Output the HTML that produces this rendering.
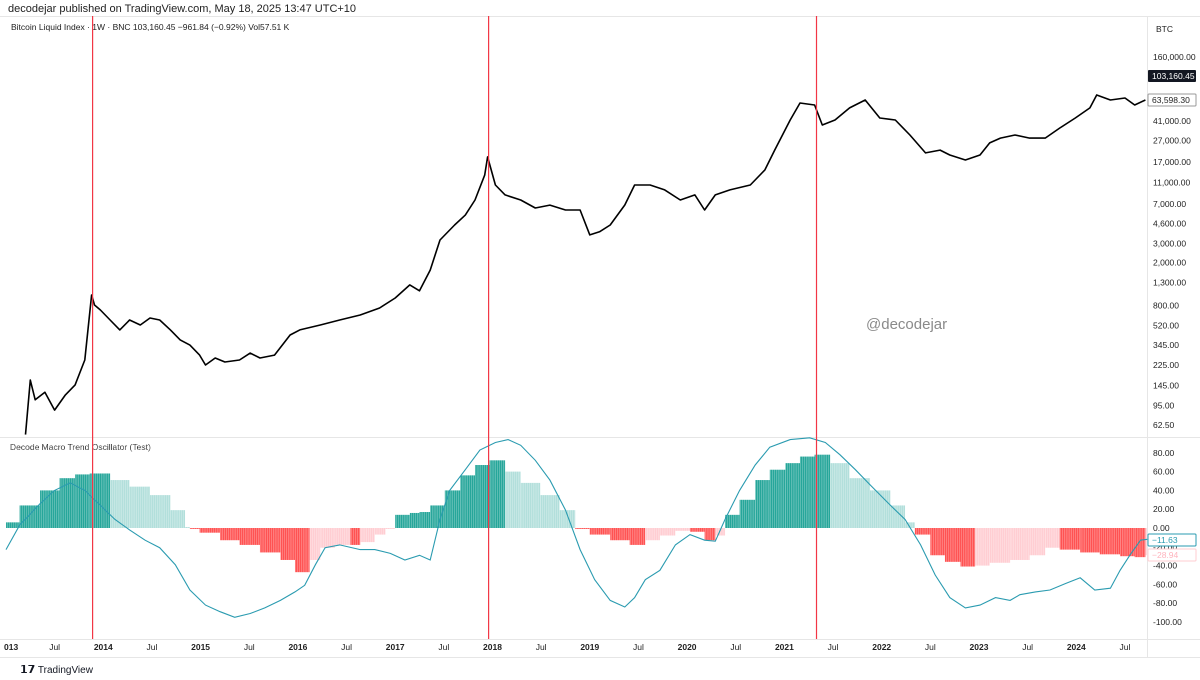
<!DOCTYPE html>
<html><head><meta charset="utf-8"><style>
html,body{margin:0;padding:0;background:#fff;width:1200px;height:680px;overflow:hidden;font-family:"Liberation Sans",sans-serif;}
svg text{font-family:"Liberation Sans",sans-serif;}
</style></head><body>
<svg id="c" width="1200" height="680" xmlns="http://www.w3.org/2000/svg">
<defs><pattern id="stripes" width="1.87" height="10" patternUnits="userSpaceOnUse"><rect x="0" y="0" width="0.35" height="10" fill="#fff" fill-opacity="0.7"/></pattern></defs>
<text x="8" y="12" font-size="11" fill="#222">decodejar published on TradingView.com, May 18, 2025 13:47 UTC+10</text>
<line x1="0" y1="16.5" x2="1200" y2="16.5" stroke="#e6e6e6"/>
<text x="11" y="30" font-size="8.5" fill="#222">Bitcoin Liquid Index · 1W · BNC  103,160.45  −961.84 (−0.92%)  Vol57.51 K</text>
<line x1="1147.5" y1="16" x2="1147.5" y2="657" stroke="#e6e6e6"/>
<line x1="0" y1="437.5" x2="1200" y2="437.5" stroke="#e6e6e6"/>
<line x1="0" y1="639.5" x2="1200" y2="639.5" stroke="#e6e6e6"/>
<line x1="0" y1="657.5" x2="1200" y2="657.5" stroke="#e6e6e6"/>
<text x="866" y="329" font-size="15" fill="#8a8a8a">@decodejar</text>
<text x="10" y="450" font-size="8.5" fill="#222">Decode Macro Trend Oscillator (Test)</text>
<g id="hist"></g>
<rect x="0" y="440" width="1147" height="150" fill="url(#stripes)"/>
<g id="osc"></g><g id="price"></g><g id="vlines"></g><g id="axes"></g>
<text x="20" y="673" font-size="10" fill="#131722"><tspan font-weight="bold" font-size="11">𝟭𝟳</tspan> TradingView</text>
</svg>
<script>
const priceYears=[2013.20,2013.25,2013.30,2013.40,2013.50,2013.61,2013.71,2013.81,2013.88,2013.91,2013.97,2014.07,2014.17,2014.27,2014.38,2014.48,2014.58,2014.69,2014.79,2014.89,2014.99,2015.05,2015.15,2015.25,2015.40,2015.51,2015.61,2015.76,2015.92,2016.02,2016.23,2016.43,2016.64,2016.84,2017.00,2017.15,2017.25,2017.36,2017.46,2017.61,2017.72,2017.82,2017.92,2017.95,2018.03,2018.13,2018.29,2018.44,2018.59,2018.75,2018.90,2019.00,2019.10,2019.21,2019.36,2019.46,2019.62,2019.77,2019.93,2020.08,2020.18,2020.29,2020.44,2020.65,2020.80,2020.90,2021.06,2021.16,2021.31,2021.39,2021.52,2021.67,2021.83,2021.98,2022.14,2022.29,2022.45,2022.60,2022.70,2022.86,2023.01,2023.11,2023.22,2023.37,2023.52,2023.68,2023.83,2023.99,2024.14,2024.21,2024.35,2024.50,2024.60,2024.71];
const priceValues=[51,163,107,126,86,119,147,250,1000,808,727,587,475,587,528,613,587,475,384,344,278,225,261,240,250,290,261,278,426,475,528,587,653,758,938,1240,1095,1700,3230,4450,5500,7580,12900,19000,10450,8450,7580,6400,6800,6130,6130,3600,3850,4450,6820,10450,10450,9400,7580,8450,6130,8450,9400,10450,14400,22000,41800,60000,57500,37500,41800,54000,64000,43600,41800,30300,20700,22000,19800,17800,19800,25600,28400,30300,28400,28400,35200,43600,54000,71200,64000,66800,57500,64000];
const histYears=[2013.00,2013.14,2013.35,2013.55,2013.71,2013.86,2014.07,2014.27,2014.48,2014.69,2014.84,2014.89,2014.99,2015.20,2015.40,2015.61,2015.82,2015.97,2016.12,2016.23,2016.38,2016.54,2016.64,2016.79,2016.90,2017.00,2017.15,2017.25,2017.36,2017.51,2017.67,2017.82,2017.97,2018.13,2018.29,2018.49,2018.69,2018.85,2019.00,2019.21,2019.41,2019.57,2019.72,2019.88,2020.03,2020.18,2020.29,2020.39,2020.54,2020.70,2020.85,2021.01,2021.16,2021.31,2021.47,2021.67,2021.88,2022.09,2022.24,2022.34,2022.50,2022.65,2022.81,2022.96,2023.11,2023.32,2023.52,2023.68,2023.83,2024.04,2024.24,2024.45,2024.60,2024.71];
const histValues=[6,24,40,53,57,58,51,44,35,19,1,-1,-5,-13,-18,-26,-34,-47,-34,-21,-18,-18,-15,-7,-1,14,16,17,24,40,56,67,72,60,48,35,19,-1,-7,-13,-18,-13,-8,-3,-4,-13,-8,14,30,51,62,69,76,78,69,53,40,24,6,-7,-29,-36,-41,-40,-37,-34,-29,-21,-23,-26,-28,-30,-31,-29];
const oscYears=[2013.00,2013.14,2013.35,2013.50,2013.66,2013.81,2013.97,2014.12,2014.27,2014.43,2014.58,2014.74,2014.89,2015.05,2015.20,2015.35,2015.51,2015.66,2015.82,2015.97,2016.07,2016.18,2016.28,2016.43,2016.64,2016.79,2016.95,2017.10,2017.25,2017.36,2017.46,2017.56,2017.72,2017.87,2018.03,2018.16,2018.29,2018.44,2018.59,2018.75,2018.90,2019.05,2019.21,2019.36,2019.46,2019.57,2019.72,2019.88,2020.03,2020.18,2020.29,2020.39,2020.54,2020.70,2020.85,2021.06,2021.26,2021.42,2021.57,2021.73,2021.88,2022.09,2022.24,2022.40,2022.55,2022.70,2022.86,2023.01,2023.17,2023.32,2023.42,2023.58,2023.73,2023.89,2024.04,2024.19,2024.35,2024.45,2024.55,2024.66,2024.73];
const oscValues=[-23,3,26,40,48,40,24,9,-2,-13,-21,-39,-66,-82,-89,-95,-91,-85,-77,-68,-61,-39,-21,-18,-23,-23,-27,-34,-29,-34,9,40,62,83,91,94,88,72,51,19,-23,-55,-77,-84,-74,-55,-45,-18,-7,-13,-14,9,40,67,86,94,96,91,78,62,46,24,9,-18,-50,-74,-85,-82,-74,-77,-71,-68,-66,-59,-53,-66,-64,-45,-29,-13,-12];
const cycleTops=[2013.89,2017.96,2021.33];
const priceTicks=[160000,41000,27000,17000,11000,7000,4600,3000,2000,1300,800,520,345,225,145,95,62.5];
const oscTicks=[80,60,40,20,0,-20,-40,-60,-80,-100];
const timeLabels=["013","Jul","2014","Jul","2015","Jul","2016","Jul","2017","Jul","2018","Jul","2019","Jul","2020","Jul","2021","Jul","2022","Jul","2023","Jul","2024","Jul"];
const timeStarts=[2013,2013.5,2014,2014.5,2015,2015.5,2016,2016.5,2017,2017.5,2018,2018.5,2019,2019.5,2020,2020.5,2021,2021.5,2022,2022.5,2023,2023.5,2024,2024.5];

const NS="http://www.w3.org/2000/svg";
const X=t=>6+(t-2013)*97.3;
const YP=v=>57+46.9*Math.log(160000/v);
const YO=v=>528-0.94*v;
function el(tag,attrs,parent){const e=document.createElementNS(NS,tag);for(const k in attrs)e.setAttribute(k,attrs[k]);parent.appendChild(e);return e;}
const hist=document.getElementById('hist');
for(let i=0;i<histYears.length;i++){
  const v=histValues[i],prev=i>0?histValues[i-1]:0;
  const x0=X(histYears[i]),x1=i<histYears.length-1?X(histYears[i+1]):1147;
  let col;
  if(v>=0)col=(v>=prev)?"#26a69a":"#b2dfdb";else col=(v<=prev)?"#ff5252":"#ffcdd2";
  const y0=YO(0),y1=YO(v);
  const r=el('rect',{x:x0,y:Math.min(y0,y1),width:Math.max(0.5,x1-x0),height:Math.abs(y1-y0),fill:col},hist);
  
  
}
let d="";oscYears.forEach((t,i)=>{d+=(i?"L":"M")+X(t).toFixed(1)+","+YO(oscValues[i]).toFixed(1);});
const ol=el('path',{d:d,fill:"none",stroke:"#2a9bb0","stroke-width":1.1},document.getElementById('osc'));


d="";priceYears.forEach((t,i)=>{d+=(i?"L":"M")+X(t).toFixed(1)+","+YP(priceValues[i]).toFixed(1);});
const pl=el('path',{d:d,fill:"none",stroke:"#000","stroke-width":1.6,"stroke-linejoin":"round"},document.getElementById('price'));


cycleTops.forEach(t=>{
  const l=el('line',{x1:X(t),x2:X(t),y1:16,y2:639,stroke:"#f23645","stroke-width":1.2},document.getElementById('vlines'));
  
  
});
const ax=document.getElementById('axes');
const fmt=v=>v.toLocaleString('en-US',{minimumFractionDigits:2,maximumFractionDigits:2});
let bt=el('text',{x:1156,y:32,"font-size":8.5,fill:"#222"},ax);bt.textContent="BTC";


priceTicks.forEach(v=>{
  const t=el('text',{x:1153,y:YP(v)+3,"font-size":8.5,fill:"#222"},ax);t.textContent=fmt(v);
  
  
});
oscTicks.forEach(v=>{
  const t=el('text',{x:1153,y:YO(v)+3,"font-size":8.5,fill:"#222"},ax);t.textContent=fmt(v);
  
  
});
function tag(y,txt,bg,fg,stroke,name){
  const g=el('g',{},ax);
  
  
  el('rect',{x:1148,y:y-6,width:48,height:12,fill:bg,stroke:stroke,rx:1},g);
  const t=el('text',{x:1152,y:y+3,"font-size":8.5,fill:fg},g);t.textContent=txt;
}
tag(76,"103,160.45","#131722","#fff","none","last-price-tag");
tag(100,"63,598.30","#fff","#222","#999","secondary-price-tag");
tag(540,"−11.63","#fff","#2a9bb0","#2a9bb0","oscillator-value-tag");
tag(555,"−28.94","#fff","#ffb3bd","#ffcdd2","histogram-value-tag");
timeLabels.forEach((s,i)=>{
  const x=X(timeStarts[i]);
  const t=el('text',{x:i===0?4:x,y:650,"font-size":8.5,fill:"#222","text-anchor":i===0?"start":"middle","font-weight":s==="Jul"?"normal":"bold"},ax);
  t.textContent=s;
  
  
});
</script>
</body></html>
